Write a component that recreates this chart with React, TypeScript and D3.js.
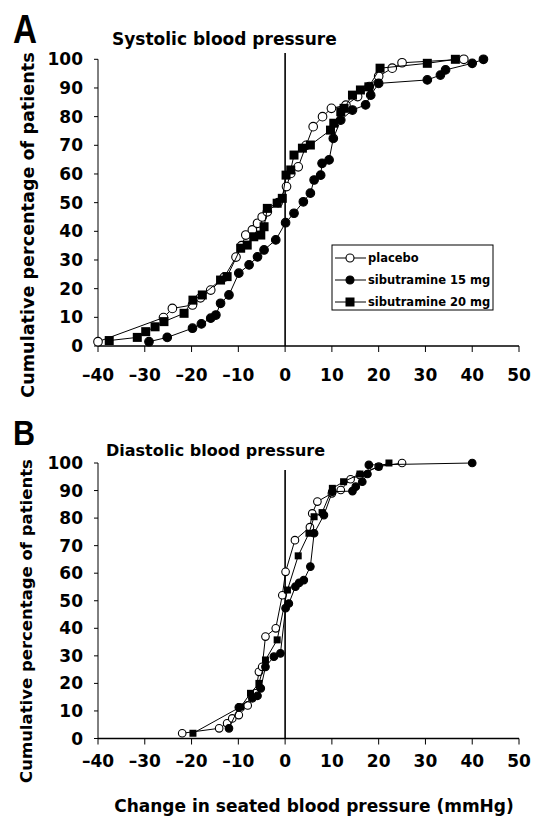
import React from "react";
import * as d3 from "d3";

// ---------- data ----------
const xTicks = [-40, -30, -20, -10, 0, 10, 20, 30, 40, 50];
const yTicks = [0, 10, 20, 30, 40, 50, 60, 70, 80, 90, 100];
const seriesNames = ["placebo", "sibutramine 15 mg", "sibutramine 20 mg"];
const panelLetters = ["A", "B"];
const panelTitles = ["Systolic blood pressure", "Diastolic blood pressure"];
const yAxisTitle = "Cumulative percentage of patients";
const xAxisTitle = "Change in seated blood pressure (mmHg)";

// Systolic
const sysPlaceboX = [-40, -26, -24.1, -19.8, -18.1, -15.9, -13, -10.5, -9.3, -8.4, -7.0, -5.9, -4.9, -3.8, -1.5, 0.3, 1.2, 2.8, 4.5, 6.0, 8, 9.9, 13, 15.5, 18, 20.0, 22.9, 25.0, 38.2];
const sysPlaceboY = [1.5, 9.9, 13.1, 14.3, 16.8, 19.5, 24, 31, 35, 38.7, 40.5, 42.8, 45, 46.8, 50, 55.6, 60.2, 62.5, 70, 76.5, 80, 82.9, 84, 87, 90.5, 94.1, 96.9, 98.8, 100];
const sys15X = [-29.1, -25.2, -19.8, -17.9, -15.9, -14.8, -13.8, -12.0, -9.9, -7.7, -5.9, -4.5, -2.0, 0.1, 1.9, 3.9, 5.4, 6.2, 7.6, 7.9, 9.4, 10.3, 11.9, 14.4, 17.2, 18.3, 20.0, 30.4, 33.2, 34.3, 40.0, 42.4];
const sys15Y = [1.5, 3.0, 6.2, 7.7, 9.7, 10.8, 14.9, 17.8, 25.4, 28.3, 31.1, 33.5, 37.0, 43.0, 46.3, 50.3, 53.3, 57.9, 59.6, 63.7, 64.9, 72.4, 78.8, 82.3, 84.1, 87.5, 91.6, 92.8, 94.5, 96.3, 98.6, 100];
const sys20X = [-37.6, -31.6, -29.8, -27.8, -25.9, -21.6, -19.7, -17.7, -13.8, -12.4, -9.5, -8.1, -6.7, -5.2, -4.5, -3.8, -1.7, -0.6, 0.2, 1.2, 1.9, 3.7, 5.4, 9.7, 10.4, 11.9, 12.6, 14.4, 16.1, 17.9, 20.3, 30.4, 36.4];
const sys20Y = [1.9, 3.0, 5.0, 6.7, 8.5, 11.4, 16.0, 17.8, 23.0, 24.2, 34.1, 35.2, 38.1, 38.7, 41.6, 48.0, 49.8, 51.5, 59.6, 61.4, 66.6, 69, 70.1, 75.3, 77.7, 81.7, 82.9, 87.5, 89.3, 90.4, 96.9, 98.6, 100];

// Diastolic
const diaPlaceboX = [-22.0, -14.1, -12.4, -11.3, -9.9, -8, -6.3, -5.6, -4.9, -4.2, -2.0, -0.6, 0.1, 2.1, 5.3, 5.8, 6.9, 10, 11.9, 14, 16, 20, 25];
const diaPlaceboY = [1.9, 3.7, 5.5, 7.3, 8.5, 12, 16.4, 24.2, 26, 37, 40, 52, 60.5, 72, 76.7, 81.7, 86, 89, 90.2, 94.1, 95.6, 98.7, 100];
const dia15X = [-12, -9.9, -7.0, -5.9, -5.2, -4.2, -2.4, -1.0, 0.1, 0.8, 2.2, 3.0, 4.0, 5.4, 6.2, 8.3, 10.1, 14.4, 15.1, 16.5, 17.6, 17.9, 40];
const dia15Y = [3.7, 11.3, 14.6, 15.5, 18.2, 26, 29.7, 30.9, 47.3, 49, 55.1, 56.5, 57.5, 62.4, 74.5, 81.1, 89.6, 89.8, 91.4, 93.2, 96, 99.3, 100];
const dia20X = [-19.7, -9.5, -7.4, -5.6, -4.2, -1.7, 0.5, 2.8, 5.1, 6.2, 7.9, 10.1, 12.5, 16, 20, 22.2];
const dia20Y = [1.9, 11.5, 16.4, 20, 28.5, 35.8, 53.9, 66.3, 74.5, 80.5, 82, 90.8, 93.2, 96, 98.7, 100];

const FONT = "'DejaVu Sans', Verdana, sans-serif";

type Pt = [number, number];
const zip = (xs: number[], ys: number[]): Pt[] => xs.map((x, i) => [x, ys[i]]);

interface PanelProps {
  idx: number;
  yTopPx: number;
  yBotPx: number;
  zeroTop: number;
  series: Pt[][];
  r: number;
  sq: number;
  tickLabelOffset: number;
  titleY: number;
  titleX: number;
  titleSize: number;
  letterY: number;
  letterSize: number;
  letterLen: number;
  yTitleX: number;
  yTitleCenter: number;
  yTitleSize: number;
  legend: boolean;
}

const x = d3.scaleLinear().domain([-40, 50]).range([98, 519]);

function Marker({ kind, cx, cy, r, sq }: { kind: number; cx: number; cy: number; r: number; sq: number }) {
  if (kind === 2) {
    return <rect x={cx - sq / 2} y={cy - sq / 2} width={sq} height={sq} fill="#000" />;
  }
  return <circle cx={cx} cy={cy} r={r} fill={kind === 0 ? "#fff" : "#000"} stroke="#000" strokeWidth={1.1} />;
}

function Panel(p: PanelProps) {
  const y = d3.scaleLinear().domain([0, 100]).range([p.yBotPx, p.yTopPx]);
  const line = d3
    .line<Pt>()
    .x((d) => x(d[0]))
    .y((d) => y(d[1]));
  const x0 = x(-40);
  return (
    <g>
      <text x={13} y={p.letterY} fontFamily="'Liberation Sans', Arial, sans-serif" fontWeight="bold" fontSize={p.letterSize} textLength={p.letterLen} lengthAdjust="spacingAndGlyphs">
        {panelLetters[p.idx]}
      </text>
      <text x={p.titleX} y={p.titleY} fontFamily={FONT} fontWeight="bold" fontSize={p.titleSize}>
        {panelTitles[p.idx]}
      </text>
      <text
        transform={`translate(${p.yTitleX},${p.yTitleCenter}) rotate(-90)`}
        textAnchor="middle"
        fontFamily={FONT}
        fontWeight="bold"
        fontSize={p.yTitleSize}
      >
        {yAxisTitle}
      </text>
      {/* axes */}
      <line x1={x0} x2={x0} y1={y(0)} y2={y(100)} stroke="#000" strokeWidth={1} />
      <line x1={x0} x2={x(50)} y1={y(0)} y2={y(0)} stroke="#000" strokeWidth={1.3} />
      {yTicks.map((t) => (
        <g key={"y" + t}>
          <line x1={x0 - 4} x2={x0} y1={y(t)} y2={y(t)} stroke="#000" />
          <text x={83} y={y(t) + 6} textAnchor="end" fontFamily={FONT} fontWeight="bold" fontSize={17}>
            {t}
          </text>
        </g>
      ))}
      {xTicks.map((t) => (
        <g key={"x" + t}>
          <line x1={x(t)} x2={x(t)} y1={y(0)} y2={y(0) + 6} stroke="#000" />
          <text x={x(t)} y={y(0) + p.tickLabelOffset} textAnchor="middle" fontFamily={FONT} fontWeight="bold" fontSize={17}>
            {t === 0 ? "0" : t < 0 ? "\u2013" + Math.abs(t) : String(t)}
          </text>
        </g>
      ))}
      {/* zero reference line */}
      <line x1={x(0)} x2={x(0)} y1={p.zeroTop} y2={y(0)} stroke="#000" strokeWidth={1.6} />
      {/* series */}
      {p.series.map((s, k) => (
        <g key={"s" + k}>
          <path d={line(s) || ""} fill="none" stroke="#000" strokeWidth={1} />
          {s.map((d, i) => (
            <Marker key={i} kind={k} cx={x(d[0])} cy={y(d[1])} r={p.r} sq={p.sq} />
          ))}
        </g>
      ))}
      {p.legend && (
        <g>
          <rect x={332} y={245} width={161} height={65} fill="#fff" stroke="#000" strokeWidth={1} />
          {seriesNames.map((n, k) => {
            const ly = 258 + k * 22;
            return (
              <g key={n}>
                <line x1={335} x2={366} y1={ly} y2={ly} stroke="#000" strokeWidth={1} />
                <Marker kind={k} cx={350} cy={ly} r={4} sq={9} />
                <text x={368} y={ly + 4} fontFamily={FONT} fontWeight="bold" fontSize={11.5}>
                  {n}
                </text>
              </g>
            );
          })}
        </g>
      )}
    </g>
  );
}

export default function App() {
  return (
    <svg
      width={535}
      height={818}
      style={{ position: "absolute", left: 0, top: 0, background: "#fff" }}
    >
      <rect width={535} height={818} fill="#fff" />
      <Panel
        idx={0}
        yTopPx={59.3}
        yBotPx={346}
        zeroTop={53}
        series={[zip(sysPlaceboX, sysPlaceboY), zip(sys15X, sys15Y), zip(sys20X, sys20Y)]}
        r={4.3}
        sq={9}
        tickLabelOffset={35}
        titleY={45}
        titleX={112}
        titleSize={17}
        letterY={42.5}
        letterSize={40}
        letterLen={24}
        yTitleX={34}
        yTitleCenter={225}
        yTitleSize={17.6}
        legend={true}
      />
      <Panel
        idx={1}
        yTopPx={463}
        yBotPx={738.5}
        zeroTop={470}
        series={[zip(diaPlaceboX, diaPlaceboY), zip(dia15X, dia15Y), zip(dia20X, dia20Y)]}
        r={3.8}
        sq={7}
        tickLabelOffset={28.5}
        titleY={456}
        titleX={106}
        titleSize={16}
        letterY={445}
        letterSize={35}
        letterLen={22}
        yTitleX={32}
        yTitleCenter={621}
        yTitleSize={16.5}
        legend={false}
      />
      <text x={314} y={812} textAnchor="middle" fontFamily={FONT} fontWeight="bold" fontSize={17}>
        {xAxisTitle}
      </text>
    </svg>
  );
}
